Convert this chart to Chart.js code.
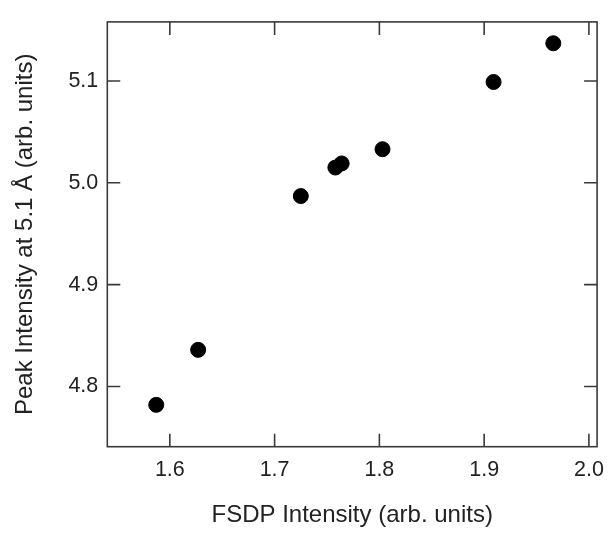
<!DOCTYPE html>
<html>
<head>
<meta charset="utf-8">
<script src="https://cdn.jsdelivr.net/npm/chart.js@4"></script>
<style>
  html, body { margin: 0; padding: 0; background: #fff; }
  canvas { display: block; }
</style>
</head>
<body>
<canvas id="myChart" width="614" height="534"></canvas>
<script>
// FSDP intensity vs peak intensity at 5.1 A
const fsdp = [1.587, 1.627, 1.725, 1.758, 1.764, 1.803, 1.909, 1.966];
const peak = [4.782, 4.836, 4.987, 5.015, 5.019, 5.033, 5.099, 5.137];

const xTicks = [1.6, 1.7, 1.8, 1.9, 2.0];
const yTicks = [4.8, 4.9, 5.0, 5.1];

const xTitle = 'FSDP Intensity (arb. units)';
const yTitle = 'Peak Intensity at 5.1 \u00C5 (arb. units)';

const points = fsdp.map((x, i) => ({ x: x, y: peak[i] }));

const fontFamily = "'Liberation Sans', Arial, sans-serif";

// box around the plot with inward ticks on all four sides
const frameTicks = {
    id: 'frameTicks',
    afterDraw(chart) {
        const ctx = chart.ctx;
        const area = chart.chartArea;
        const xs = chart.scales.x;
        const ys = chart.scales.y;
        const len = 13;
        ctx.save();
        ctx.strokeStyle = '#3a3a3a';
        ctx.lineWidth = 1.6;
        ctx.strokeRect(area.left, area.top, area.right - area.left, area.bottom - area.top);
        ctx.beginPath();
        xs.ticks.forEach(t => {
            const px = xs.getPixelForValue(t.value);
            ctx.moveTo(px, area.bottom);
            ctx.lineTo(px, area.bottom - len);
            ctx.moveTo(px, area.top);
            ctx.lineTo(px, area.top + len);
        });
        ys.ticks.forEach(t => {
            const py = ys.getPixelForValue(t.value);
            ctx.moveTo(area.left, py);
            ctx.lineTo(area.left + len, py);
            ctx.moveTo(area.right, py);
            ctx.lineTo(area.right - len, py);
        });
        ctx.stroke();
        ctx.restore();
    }
};

const ctx = document.getElementById('myChart');
const myChart = new Chart(ctx, {
    type: 'scatter',
    data: {
        datasets: [{
            data: points,
            backgroundColor: '#000',
            borderColor: '#000',
            pointRadius: 7.5,
            pointHoverRadius: 7.5
        }]
    },
    options: {
        responsive: false,
        animation: false,
        layout: {
            padding: { top: 11, right: 9, bottom: 0, left: 0 }
        },
        scales: {
            x: {
                type: 'linear',
                min: 1.5403,
                max: 2.0078,
                afterBuildTicks: s => { s.ticks = xTicks.map(v => ({ value: v })); },
                afterFit: s => { s.height = 87.3; },
                grid: { display: false, drawTicks: false },
                border: { display: false },
                ticks: {
                    padding: 10,
                    color: '#222',
                    font: { family: fontFamily, size: 21.5 },
                    callback: v => v.toFixed(1)
                },
                title: {
                    display: true,
                    text: xTitle,
                    color: '#222',
                    font: { family: fontFamily, size: 24 },
                    padding: { top: 0, bottom: 4 }
                }
            },
            y: {
                type: 'linear',
                min: 4.7409,
                max: 5.158,
                afterBuildTicks: s => { s.ticks = yTicks.map(v => ({ value: v })); },
                afterFit: s => { s.width = 107.3; },
                grid: { display: false, drawTicks: false },
                border: { display: false },
                ticks: {
                    padding: 9,
                    color: '#222',
                    font: { family: fontFamily, size: 21.5 },
                    callback: v => v.toFixed(1)
                },
                title: {
                    display: true,
                    text: yTitle,
                    color: '#222',
                    font: { family: fontFamily, size: 24 },
                    padding: { top: 11, bottom: 0 }
                }
            }
        },
        plugins: {
            legend: { display: false },
            tooltip: { enabled: false }
        }
    },
    plugins: [frameTicks]
});
</script>
</body>
</html>
